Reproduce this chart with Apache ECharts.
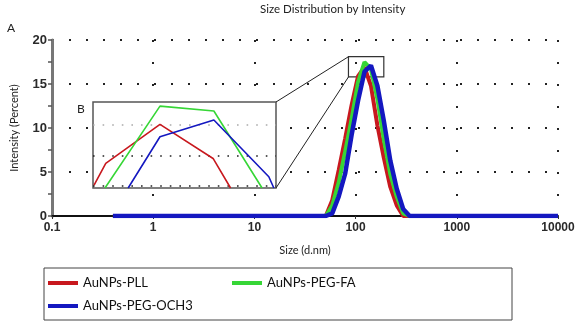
<!DOCTYPE html>
<html><head><meta charset="utf-8">
<script src="https://cdn.jsdelivr.net/npm/echarts@6/dist/echarts.min.js"></script>
<style>html,body{margin:0;padding:0;background:#fff}#c{width:578px;height:324px}</style>
</head><body><div id="c"></div>
<script>
// ---- data ----
const seriesNames = ['AuNPs-PLL', 'AuNPs-PEG-FA', 'AuNPs-PEG-OCH3'];
const seriesColors = ['#c8181e', '#36d636', '#1418c0'];
const sizeBins = [0.4, 50.75, 58.77, 68.06, 78.82, 91.28, 105.7, 122.4, 141.8, 164.2, 190.1, 220.2, 255.0, 295.3, 342.0, 10000];
const pll     = [0, 0, 1.8, 5.2, 8.8, 12.6, 15.9, 16.9, 14.8, 10.3, 6.6, 3.3, 1.2, 0, 0, 0];
const pegFA   = [0, 0, 1.2, 3.8, 7.3, 11.0, 15.2, 17.5, 16.7, 13.3, 8.7, 4.75, 2.2, 0.3, 0, 0];
const pegOCH3 = [0, 0, 0.3, 2.2, 4.8, 9.2, 13.1, 16.4, 17.1, 14.8, 10.8, 6.3, 3.1, 0.8, 0, 0];
const xTickLabels = ['0.1', '1', '10', '100', '1000', '10000'];
const yTickLabels = ['0', '5', '10', '15', '20'];

// inset (zoom of the peak tops)
const insetSizeRange = [85, 190];
const insetIntensityRange = [15.8, 18.1];
const insetGridLevels = [17.5, 16.66, 15.86];
const insetPLLSize = [85.4, 89.9, 114.1, 144.1, 155.6];
const insetPLLVal  = [15.88, 16.46, 17.50, 16.59, 15.8];
const insetFASize  = [89.6, 114.1, 144.6, 178.7];
const insetFAVal   = [15.8, 17.99, 17.86, 15.8];
const insetOCHSize = [99.2, 114.1, 144.6, 184.1, 188.2];
const insetOCHVal  = [15.8, 17.17, 17.62, 16.10, 15.8];

const mainValues = [pll, pegFA, pegOCH3];
const insetSizes = [insetPLLSize, insetFASize, insetOCHSize];
const insetVals = [insetPLLVal, insetFAVal, insetOCHVal];

const chart = echarts.init(document.getElementById('c'), null, {renderer: 'canvas'});
const tickFont = {fontFamily: 'Liberation Sans', fontWeight: 'bold', color: '#2a2a2a'};

const series = [];
mainValues.forEach((vals, i) => {
  const s = {
    name: seriesNames[i], type: 'line', xAxisIndex: 0, yAxisIndex: 0,
    symbol: 'none', smooth: false, z: 3 + i,
    lineStyle: {color: seriesColors[i], width: i === 2 ? 4.5 : 4},
    itemStyle: {color: seriesColors[i]},
    data: sizeBins.map((s, k) => [s, vals[k]])
  };
  if (i === 0) {
    s.markArea = {
      silent: true,
      itemStyle: {color: 'rgba(0,0,0,0)', borderColor: '#333', borderWidth: 1.2},
      data: [[{coord: [insetSizeRange[0], insetIntensityRange[1]]}, {coord: [insetSizeRange[1], insetIntensityRange[0]]}]]
    };
  }
  series.push(s);
});
insetSizes.forEach((xs, i) => {
  const s = {
    name: seriesNames[i] + ' (inset)', type: 'line', xAxisIndex: 1, yAxisIndex: 1,
    symbol: 'none', z: 12 + i, clip: true,
    lineStyle: {color: seriesColors[i], width: 1.6},
    data: xs.map((x, k) => [x, insetVals[i][k]])
  };
  if (i === 0) {
    s.markLine = {
      silent: true, symbol: 'none', label: {show: false}, z: 11,
      data: insetGridLevels.map((v, k) => ({
        yAxis: v,
        lineStyle: {color: k === 0 ? '#aaa' : '#222', width: 1.6, type: [1.6, 8]}
      }))
    };
  }
  series.push(s);
});

chart.setOption({
  animation: false,
  backgroundColor: '#fff',
  title: [
    {text: 'Size Distribution by Intensity', left: 260, top: 3, padding: 0,
     textStyle: {fontFamily: 'Lato', fontSize: 11.5, fontWeight: 'normal', color: '#222'}},
    {text: 'A', left: 7, top: 22, padding: 0, textStyle: {fontFamily: 'Lato', fontSize: 12, fontWeight: 'normal', color: '#222'}},
    {text: 'B', left: 77, top: 103, padding: 0, textStyle: {fontFamily: 'Lato', fontSize: 12, fontWeight: 'normal', color: '#222'}}
  ],
  legend: {
    data: seriesNames, left: 44, top: 268, width: 370,
    padding: [8, 105, 7, 4], borderColor: '#444', borderWidth: 1,
    itemGap: 9, itemWidth: 30, itemHeight: 4, icon: 'rect',
    textStyle: {fontFamily: 'Lato', fontSize: 13, color: '#111', lineHeight: 14, width: 140}
  },
  grid: [
    {left: 52, right: 20, top: 40, bottom: 108, z: 0},
    {left: 93, top: 102, width: 183, height: 86, show: true, backgroundColor: '#fff',
     borderColor: '#555', borderWidth: 1.5, z: 10}
  ],
  xAxis: [
    {type: 'log', logBase: 10, min: 0.1, max: 10000, gridIndex: 0,
     name: 'Size (d.nm)', nameLocation: 'middle', nameGap: 29,
     nameTextStyle: {fontFamily: 'Lato', fontSize: 11, color: '#222'},
     axisLine: {lineStyle: {color: '#111', width: 2}},
     axisTick: {show: true, length: 3, lineStyle: {color: '#333'}},
     axisLabel: Object.assign({fontSize: 12, margin: 6,
       formatter: (v) => xTickLabels[Math.round(Math.log10(v)) + 1]}, tickFont),
     splitLine: {show: true, lineStyle: {color: '#222', width: 2, type: [2, 20]}}
    },
    {type: 'log', logBase: 10, min: insetSizeRange[0], max: insetSizeRange[1], gridIndex: 1, show: false,
     splitLine: {show: false}}
  ],
  yAxis: [
    {type: 'value', min: 0, max: 20, interval: 5, gridIndex: 0,
     name: 'Intensity (Percent)', nameLocation: 'middle', nameGap: 32,
     nameTextStyle: {fontFamily: 'Lato', fontSize: 11, color: '#222'},
     axisLine: {show: true, lineStyle: {color: '#777', width: 3}},
     axisTick: {show: true, length: 4, lineStyle: {color: '#555', width: 1.5}},
     minorTick: {show: true, splitNumber: 2, length: 4, lineStyle: {color: '#555', width: 1.5}},
     axisLabel: Object.assign({fontSize: 13, margin: 5,
       formatter: (v) => yTickLabels[Math.round(v / 5)]}, tickFont),
     splitLine: {show: true, lineStyle: {color: '#222', width: 2, type: [2, 15]}}
    },
    {type: 'value', min: insetIntensityRange[0], max: insetIntensityRange[1], gridIndex: 1, show: false,
     splitLine: {show: false}}
  ],
  series: series
});

// connector lines from the zoom rectangle to the inset, located through the axes
const rTL = chart.convertToPixel({gridIndex: 0}, [insetSizeRange[0], insetIntensityRange[1]]);
const rBL = chart.convertToPixel({gridIndex: 0}, [insetSizeRange[0], insetIntensityRange[0]]);
const iTR = chart.convertToPixel({gridIndex: 1}, [insetSizeRange[1], insetIntensityRange[1]]);
const iBR = chart.convertToPixel({gridIndex: 1}, [insetSizeRange[1], insetIntensityRange[0]]);
chart.setOption({
  graphic: [
    {type: 'line', z: 20, shape: {x1: rTL[0], y1: rTL[1], x2: iTR[0], y2: iTR[1]}, style: {stroke: '#222', lineWidth: 1}},
    {type: 'line', z: 20, shape: {x1: rBL[0], y1: rBL[1], x2: iBR[0], y2: iBR[1]}, style: {stroke: '#222', lineWidth: 1}}
  ]
});
</script></body></html>
